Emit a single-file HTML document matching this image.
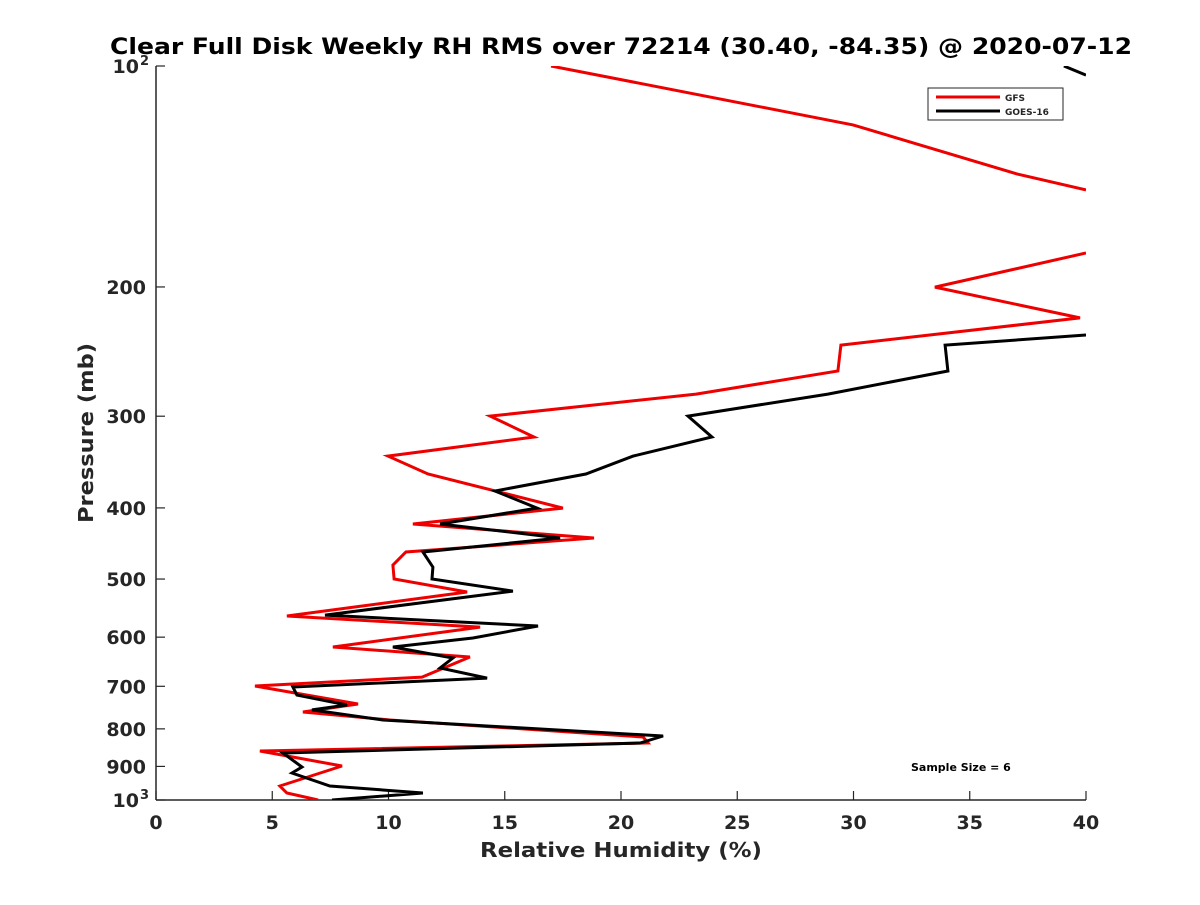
<!DOCTYPE html>
<html><head><meta charset="utf-8"><style>
body{margin:0;background:#fff}
svg text{font-family:"DejaVu Sans","Liberation Sans",sans-serif;font-weight:bold;fill:#262626}
</style></head><body>
<svg id="chart" width="1200" height="900" viewBox="0 0 1200 900">
<defs><clipPath id="clip"><rect x="156" y="66" width="930" height="734"/></clipPath></defs>
<text x="110" y="54" font-size="22" textLength="1022" lengthAdjust="spacingAndGlyphs" style="fill:#000">Clear Full Disk Weekly RH RMS over 72214 (30.40, -84.35) @ 2020-07-12</text>
<g id="axes"></g>
<g id="series" clip-path="url(#clip)"></g>
<g>
<rect x="928" y="88" width="135" height="32" fill="#fff" stroke="#262626" stroke-width="1"/>
<line x1="936" y1="97" x2="1000" y2="97" stroke="#e00" stroke-width="3"/>
<text x="1005" y="101" font-size="9">GFS</text>
<line x1="936" y1="111" x2="1000" y2="111" stroke="#000" stroke-width="3"/>
<text x="1005" y="115" font-size="9">GOES-16</text>
</g>
<text x="911" y="771" font-size="11" style="fill:#000">Sample Size = 6</text>
<text x="480" y="857" font-size="20" textLength="282" lengthAdjust="spacingAndGlyphs">Relative Humidity (%)</text>
<text x="0" y="0" transform="translate(93,523) rotate(-90)" font-size="20" textLength="180" lengthAdjust="spacingAndGlyphs">Pressure (mb)</text>
</svg>
<script>
const xTicks=[0,5,10,15,20,25,30,35,40];
const yTicks=[100,200,300,400,500,600,700,800,900,1000];
const yTickLabels=["10","200","300","400","500","600","700","800","900","10"];
const yTickSup=["2","","","","","","","","","3"];
const gfsRH=[16.99,29.98,37.03,40,NaN,40,33.5,39.74,29.46,29.33,23.23,14.37,16.26,9.98,11.7,17.5,11.05,18.84,10.75,10.19,10.24,13.38,5.63,13.94,7.61,13.5,11.44,4.26,8.69,6.32,10.06,20.95,21.16,4.47,8.0,5.33,5.63,6.97];
const gfsP=[100,120.3,140.3,147.5,NaN,179.8,200.1,220.4,240,260.3,279.9,299.9,320.2,340,359.6,400.2,420.7,439.6,459.4,478.6,500,520.8,561.5,581.3,618.8,638.6,680,699.4,739.9,758.7,778,820.7,836.3,857.5,898.8,957,978.3,1000];
const goesRH=[39.05,40,NaN,40,33.94,34.06,28.9,22.88,23.91,20.52,18.49,14.58,16.39,12.22,17.38,11.48,11.91,11.87,15.35,7.27,16.43,13.63,10.19,12.77,12.22,14.24,5.89,6.06,8.22,6.71,9.76,21.81,20.82,5.46,6.28,5.85,7.48,11.48,7.57];
const goesP=[100,102.9,NaN,232.5,240,260.3,279.9,299.9,320.2,340,359.6,379.3,400.2,420.7,439.6,459.4,481.6,500,519.2,559.8,579.4,601.5,618.8,640.5,661,682.2,701.5,719.4,742.2,753.9,778,818,836.3,863,901.6,918.8,957,978.3,1000];

const X0=156,X1=1086,Y0=66,Y1=800;
const xs=v=>X0+(v-0)/40*(X1-X0);
const ys=p=>Y0+Math.log10(p/100)*(Y1-Y0);
const NS="http://www.w3.org/2000/svg";
const axes=document.getElementById('axes');
function mk(tag,attrs,parent){const e=document.createElementNS(NS,tag);for(const k in attrs)e.setAttribute(k,attrs[k]);parent.appendChild(e);return e;}
const xa=mk('line',{x1:X0,y1:Y1,x2:X1,y2:Y1,stroke:'#262626','stroke-width':1.5},axes);


const ya=mk('line',{x1:X0,y1:Y0,x2:X0,y2:Y1,stroke:'#262626','stroke-width':1.5},axes);


xTicks.forEach(v=>{
  mk('line',{x1:xs(v),y1:Y1,x2:xs(v),y2:Y1-9,stroke:'#262626','stroke-width':1.2},axes);
  const t=mk('text',{x:xs(v),y:Y1+29,'text-anchor':'middle','font-size':19},axes);
  t.textContent=v;
  
  
});
yTicks.forEach((p,i)=>{
  mk('line',{x1:X0,y1:ys(p),x2:X0+9,y2:ys(p),stroke:'#262626','stroke-width':1.2},axes);
  const sup=yTickSup[i];
  const t=mk('text',{x:sup?X0-17:X0-10,y:ys(p)+7,'text-anchor':'end','font-size':19},axes);
  t.textContent=yTickLabels[i];
  
  
  if(sup){
    const s=mk('text',{x:X0-7,y:ys(p)-1,'text-anchor':'end','font-size':13},axes);
    s.textContent=sup;
    
    
  }
});
const ser=document.getElementById('series');
function drawLine(rh,p,color,name){
  let d='',pen=false;
  for(let i=0;i<rh.length;i++){
    if(isNaN(rh[i])){pen=false;continue;}
    d+=(pen?'L':'M')+xs(rh[i]).toFixed(1)+' '+ys(p[i]).toFixed(1)+' ';pen=true;
  }
  const e=mk('path',{d:d,fill:'none',stroke:color,'stroke-width':3,'stroke-linejoin':'miter'},ser);
  
  
}
drawLine(gfsRH,gfsP,'#e00','gfs-line');
drawLine(goesRH,goesP,'#000','goes16-line');
</script>
</body></html>
